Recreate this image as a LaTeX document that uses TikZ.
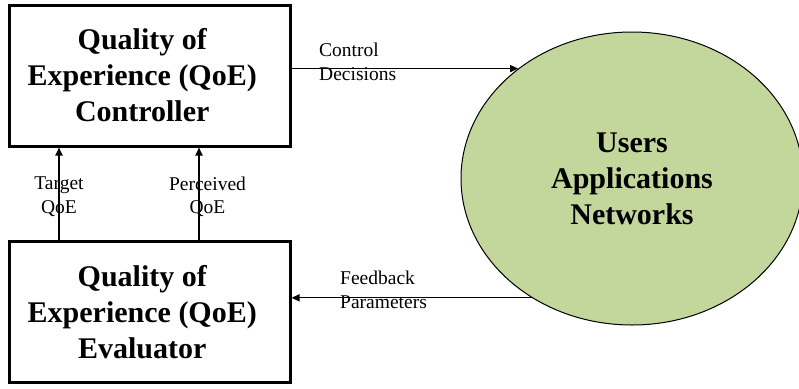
\documentclass[tikz,border=0pt]{standalone}
\usepackage{fontspec}
\setmainfont{Liberation Serif}
\usetikzlibrary{arrows.meta,shapes.geometric}
\definecolor{ellfill}{RGB}{195,214,155}
\newcommand{\rpad}{\rule{15pt}{0pt}}
\begin{document}
\begin{tikzpicture}[x=1pt,y=-1pt,
  qbox/.style={draw,line width=3pt,minimum width=280.5pt,minimum height=141pt,inner sep=0pt,align=center,font=\fontsize{30}{36}\selectfont\bfseries},
  cloud/.style={ellipse,draw,line width=1pt,fill=ellfill,minimum width=342pt,minimum height=293pt,inner sep=0pt,align=center,font=\fontsize{30}{36}\selectfont\bfseries},
  lbl/.style={inner sep=0pt,font=\fontsize{19.5}{23.5}\selectfont},
  uparr/.style={line width=1.8pt,-{Triangle[length=8pt,width=7pt]}},
  harr/.style={line width=1.3pt,-{Triangle[length=8pt,width=7pt]}}]
\useasboundingbox (0,0) rectangle (799,388);
\node[qbox] (ctrl) at (149.75,75.5) {Quality of\rpad\\Experience (QoE)\rpad\\Controller\rpad};
\node[qbox] (eval) at (149.75,312) {Quality of\rpad\\Experience (QoE)\rpad\\Evaluator\rpad};
\node[cloud] (net) at (632,178.5) {Users\\Applications\\Networks};
\coordinate (ta) at (59,0);
\coordinate (pa) at (199,0);
\draw[uparr] (ta |- eval.north) -- (ta |- ctrl.south);
\draw[uparr] (pa |- eval.north) -- (pa |- ctrl.south);
\draw[harr] (ctrl.east |- net.136.4) -- (net.136.4);
\draw[harr] (net.230.2) -- (eval.east |- net.230.2);
\node[lbl,align=center] (tl) at (59,196.7) {Target\\QoE};
\node[lbl,align=center] (pl) at (207.5,196.7) {Perceived\\QoE};
\node[lbl,align=left,anchor=west] (cl) at (319,61.9) {Control\\Decisions};
\node[lbl,align=left,anchor=west] (fl) at (340,289.9) {Feedback\\Parameters};
\end{tikzpicture}
\end{document}
